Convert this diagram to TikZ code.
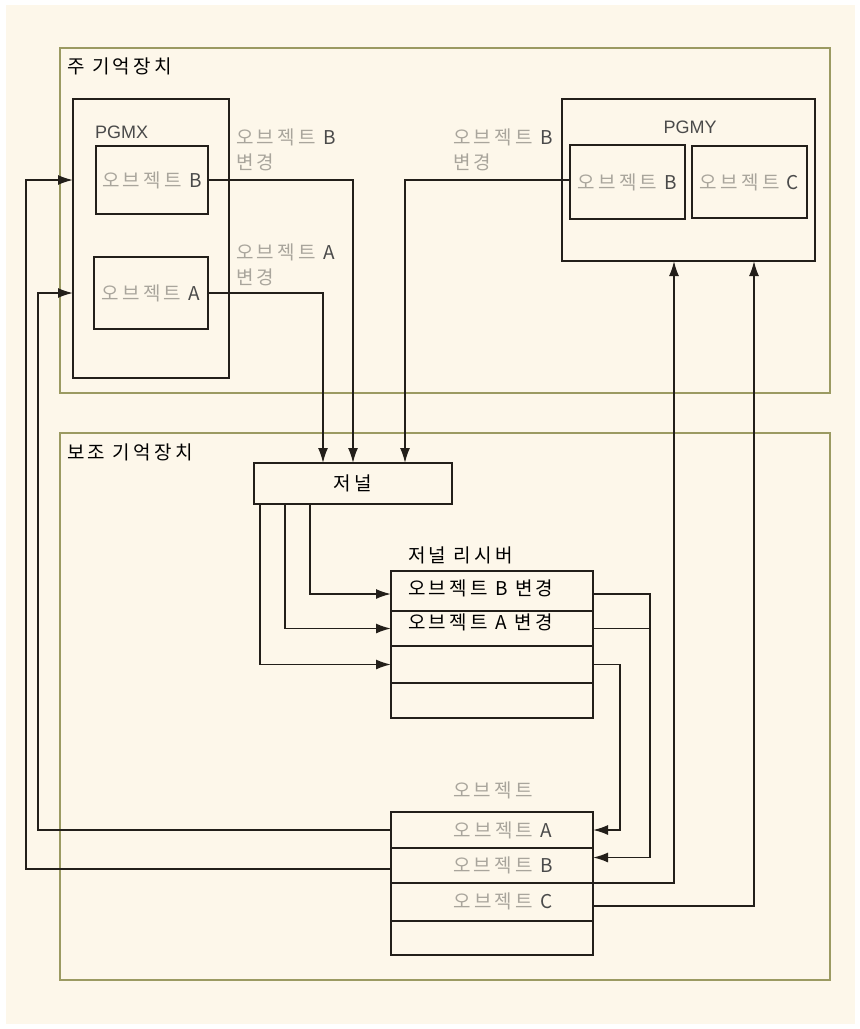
\documentclass[tikz,border=0pt]{standalone}
\usepackage{fontspec}
\newfontfamily\kr[LetterSpace=17]{Noto Sans CJK KR}
\newfontfamily\lat{Liberation Sans}
\usetikzlibrary{arrows.meta,calc}
\definecolor{cream}{HTML}{FDF7EA}
\definecolor{olivebd}{HTML}{9B9A62}
\definecolor{ink}{HTML}{231F1A}
\definecolor{hang}{HTML}{A9A59C}
\definecolor{latin}{HTML}{4A4A4A}
\newcommand\objt[1]{오브젝트 {\color{latin}#1}}
\begin{document}
\begin{tikzpicture}[x=1pt,y=-1pt,
  font=\kr\fontsize{19}{22}\selectfont,
  area/.style={draw=olivebd, line width=1.3pt, inner sep=0pt, outer sep=0pt},
  box/.style={draw=ink, line width=1.7pt, inner sep=0pt, outer sep=0pt, text=hang},
  txt/.style={inner sep=0pt, text=black},
  gtxt/.style={inner sep=0pt, text=hang},
  wire/.style={draw=ink, line width=1.7pt},
  arr/.style={wire, -{Latex[length=15pt,width=10pt]}}]
\useasboundingbox (0,0) rectangle (860,1029);
\fill[white] (0,0) rectangle (860,1029);
\fill[cream] (6,5) rectangle (855,1024);

% areas
\node[area, minimum width=770pt, minimum height=345pt] (main) at (445,220.5) {};
\node[area, minimum width=770pt, minimum height=547pt] (aux) at (445,706.5) {};
\node[txt, anchor=west] (tmain) at (67,66) {주 기억장치};
\node[txt, anchor=west] (taux) at (67,452) {보조 기억장치};

% PGMX
\node[box, minimum width=156pt, minimum height=279pt] (pgmx) at (151,238.5) {};
\node[txt, anchor=west, text=latin, font=\lat\fontsize{18}{20}\selectfont] (tpgmx) at (95,132) {PGMX};
\node[box, minimum width=112pt, minimum height=68pt] (xb) at (152,180) {\objt{B}};
\node[box, minimum width=114pt, minimum height=72pt] (xa) at (151,293) {\objt{A}};

% PGMY
\node[box, minimum width=253pt, minimum height=162pt] (pgmy) at (688.5,180) {};
\node[txt, text=latin, font=\lat\fontsize{18}{20}\selectfont] (tpgmy) at (690,127) {PGMY};
\node[box, minimum width=115pt, minimum height=74pt] (yb) at (627.5,182) {\objt{B}};
\node[box, minimum width=115pt, minimum height=72pt] (yc) at (749.5,182) {\objt{C}};

% change labels
\node[gtxt, anchor=west] (lb1) at (236,137) {\objt{B}};
\node[gtxt, anchor=west] (lb2) at (236,162) {변경};
\node[gtxt, anchor=west] (la1) at (236,252) {\objt{A}};
\node[gtxt, anchor=west] (la2) at (236,277) {변경};
\node[gtxt, anchor=west] (ly1) at (453,137) {\objt{B}};
\node[gtxt, anchor=west] (ly2) at (453,162) {변경};

% journal
\node[box, text=black, minimum width=198pt, minimum height=41pt] (journal) at (353,483.5) {저널};

% journal receiver
\node[txt, anchor=west] (tjr) at (408,555) {저널 리시버};
\node[box, minimum width=202pt, minimum height=40pt] (jr1) at (492,591) {};
\node[box, minimum width=202pt, minimum height=35pt] (jr2) at (492,628.5) {};
\node[box, minimum width=202pt, minimum height=37pt] (jr3) at (492,664.5) {};
\node[box, minimum width=202pt, minimum height=35pt] (jr4) at (492,700.5) {};
\node[txt, anchor=west] (tjr1) at (408,588) {오브젝트 B 변경};
\node[txt, anchor=west] (tjr2) at (408,622) {오브젝트 A 변경};

% objects
\node[gtxt] (tob) at (493,790) {오브젝트};
\node[box, minimum width=202pt, minimum height=36pt] (ob1) at (492,830) {};
\node[box, minimum width=202pt, minimum height=35pt] (ob2) at (492,865.5) {};
\node[box, minimum width=202pt, minimum height=38pt] (ob3) at (492,902) {};
\node[box, minimum width=202pt, minimum height=34pt] (ob4) at (492,938) {};
\node[gtxt] (tob1) at (503,830) {\objt{A}};
\node[gtxt] (tob2) at (503,865) {\objt{B}};
\node[gtxt] (tob3) at (503,901) {\objt{C}};

% helper coordinates
\coordinate (v1) at (650,0);
\coordinate (v2) at (620,0);
\coordinate (l1) at (38,0);
\coordinate (l2) at (26,0);
\coordinate (o2w) at ([yshift=-3.5pt]ob2.west);
\coordinate (j1e) at ([yshift=-3pt]jr1.east);
\coordinate (j1w) at ([yshift=-3pt]jr1.west);

% connectors
\draw[arr] (xb.east) -| (journal.north);
\draw[arr] (xa.east) -| ([xshift=-30pt]journal.north);
\draw[arr] ([yshift=2pt]yb.west) -| ([xshift=52pt]journal.north);
\draw[arr] ([xshift=-43pt]journal.south) |- (j1w);
\draw[arr] ([xshift=-68pt]journal.south) |- (jr2.west);
\draw[arr] ([xshift=-93pt]journal.south) |- (jr3.west);
\draw[arr] (j1e) -- (j1e -| v1) |- ([yshift=8pt]ob2.east);
\draw[wire] (jr2.east) -- (jr2.east -| v1);
\draw[arr] (jr3.east) -- (jr3.east -| v2) |- (ob1.east);
\draw[arr] (ob2.south east) -| ([xshift=-14.5pt]pgmy.south);
\draw[arr] ([yshift=-4pt]ob3.east) -| ([xshift=65.5pt]pgmy.south);
\draw[arr] (ob1.west) -- (ob1.west -| l1) |- ([yshift=-54.5pt]pgmx.west);
\draw[arr] (o2w) -- (o2w -| l2) |- ([yshift=58.5pt]pgmx.west);
\end{tikzpicture}
\end{document}
